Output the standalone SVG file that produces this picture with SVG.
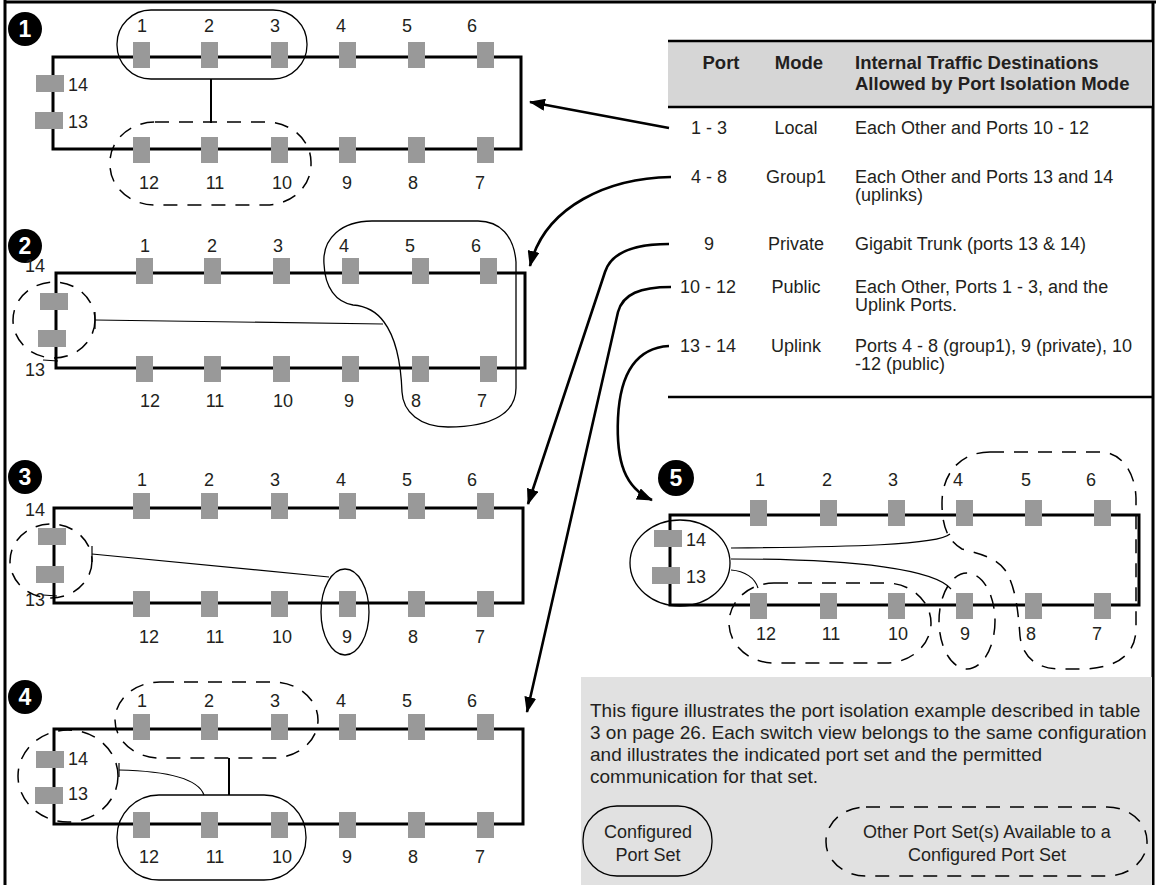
<svg xmlns="http://www.w3.org/2000/svg" xmlns:xlink="http://www.w3.org/1999/xlink" width="1156" height="885" viewBox="0 0 1156 885">
<defs>
<style>
text{font-family:"Liberation Sans",Arial,sans-serif;fill:#231f20}
.lb{font-size:18px;text-anchor:middle}
.ls{font-size:18px}
.tb{font-size:18px}
.th{font-size:18.5px;font-weight:bold}
.lg{font-size:19px}
.bn{font-size:23px;font-weight:bold;fill:#fff;text-anchor:middle}
.box{fill:none;stroke:#000;stroke-width:3}
.set{fill:none;stroke:#000;stroke-width:1.3}
.oth{fill:none;stroke:#000;stroke-width:1.5;stroke-dasharray:14 10}
.cn{fill:none;stroke:#000;stroke-width:1.2}
.cn2{fill:none;stroke:#000;stroke-width:2}
.ar{fill:none;stroke:#000;stroke-width:2.6}
</style>
<rect id="pv" width="17" height="26" fill="#999"/>
<rect id="ph" width="28" height="17" fill="#999"/>
<marker id="ah" viewBox="0 0 16 12" refX="15" refY="6" markerWidth="16" markerHeight="12" markerUnits="userSpaceOnUse" orient="auto">
<path d="M0,0 L16,6 L0,12 Z" fill="#000"/>
</marker>
</defs>
<rect width="1156" height="885" fill="#fff"/>
<g id="frame">
<line x1="5" y1="0" x2="5" y2="885" stroke="#000" stroke-width="3"/>
<line x1="4" y1="2" x2="1156" y2="2" stroke="#000" stroke-width="3"/>
<line x1="1153" y1="1" x2="1153" y2="885" stroke="#000" stroke-width="3"/>
</g>

<g id="switch1">
<circle cx="25" cy="29" r="17" fill="#000"/><text class="bn" x="25" y="37">1</text>
<rect class="box" x="53" y="57" width="468" height="92"/>
<use xlink:href="#pv" x="133" y="42"/><use xlink:href="#pv" x="201" y="42"/><use xlink:href="#pv" x="271" y="42"/><use xlink:href="#pv" x="339" y="42"/><use xlink:href="#pv" x="408" y="42"/><use xlink:href="#pv" x="477" y="42"/>
<use xlink:href="#pv" x="133" y="137"/><use xlink:href="#pv" x="201" y="137"/><use xlink:href="#pv" x="271" y="137"/><use xlink:href="#pv" x="339" y="137"/><use xlink:href="#pv" x="408" y="137"/><use xlink:href="#pv" x="477" y="137"/>
<use xlink:href="#ph" x="36" y="75"/><use xlink:href="#ph" x="35" y="112"/>
<text class="lb" x="142" y="32">1</text><text class="lb" x="209" y="32">2</text><text class="lb" x="275" y="32">3</text><text class="lb" x="341" y="32">4</text><text class="lb" x="407" y="32">5</text><text class="lb" x="472" y="32">6</text>
<text class="lb" x="149" y="189">12</text><text class="lb" x="215" y="189">11</text><text class="lb" x="282" y="189">10</text><text class="lb" x="347" y="189">9</text><text class="lb" x="413" y="189">8</text><text class="lb" x="480" y="189">7</text>
<text class="ls" x="68" y="91">14</text><text class="ls" x="68" y="128">13</text>
<rect class="set" x="117" y="10" width="190" height="69" rx="34" ry="34"/>
<rect class="oth" x="110" y="122" width="201" height="83" rx="45" ry="40"/>
<line class="cn2" x1="211" y1="79" x2="211" y2="123"/>
</g>

<g id="switch2">
<circle cx="25" cy="246" r="17" fill="#000"/><text class="bn" x="25" y="254">2</text>
<rect class="box" x="56" y="273" width="469" height="95"/>
<use xlink:href="#pv" x="136" y="258"/><use xlink:href="#pv" x="204" y="258"/><use xlink:href="#pv" x="273" y="258"/><use xlink:href="#pv" x="342" y="258"/><use xlink:href="#pv" x="412" y="258"/><use xlink:href="#pv" x="480" y="258"/>
<use xlink:href="#pv" x="136" y="356"/><use xlink:href="#pv" x="204" y="356"/><use xlink:href="#pv" x="273" y="356"/><use xlink:href="#pv" x="342" y="356"/><use xlink:href="#pv" x="412" y="356"/><use xlink:href="#pv" x="480" y="356"/>
<use xlink:href="#ph" x="40" y="293"/><use xlink:href="#ph" x="38" y="330"/>
<text class="lb" x="145" y="252">1</text><text class="lb" x="212" y="252">2</text><text class="lb" x="278" y="252">3</text><text class="lb" x="344" y="252">4</text><text class="lb" x="410" y="252">5</text><text class="lb" x="476" y="252">6</text>
<text class="lb" x="150" y="407">12</text><text class="lb" x="215" y="407">11</text><text class="lb" x="283" y="407">10</text><text class="lb" x="349" y="407">9</text><text class="lb" x="416" y="407">8</text><text class="lb" x="482" y="407">7</text>
<text class="lb" x="35" y="272">14</text><text class="lb" x="35" y="376">13</text>
<line class="cn" x1="43" y1="360" x2="58" y2="361"/>
<ellipse class="oth" cx="54" cy="320" rx="41" ry="38"/>
<path class="set" d="M324,264 C322,238 342,221 372,221 L478,221 C500,221 514,236 516,262 L516,388 C516,412 494,427 448,427 C420,427 403,412 402,392 C401,365 396,338 384,322 C376,311 366,306 353,305 C336,302 325,288 324,264 Z"/>
<line class="cn" x1="95" y1="320" x2="383" y2="324"/>
<line class="cn" x1="95" y1="312" x2="95" y2="329"/>
</g>

<g id="switch3">
<circle cx="25" cy="477" r="17" fill="#000"/><text class="bn" x="25" y="485">3</text>
<rect class="box" x="54" y="508" width="469" height="95"/>
<use xlink:href="#pv" x="133" y="493"/><use xlink:href="#pv" x="201" y="493"/><use xlink:href="#pv" x="271" y="493"/><use xlink:href="#pv" x="339" y="493"/><use xlink:href="#pv" x="408" y="493"/><use xlink:href="#pv" x="477" y="493"/>
<use xlink:href="#pv" x="133" y="591"/><use xlink:href="#pv" x="201" y="591"/><use xlink:href="#pv" x="271" y="591"/><use xlink:href="#pv" x="339" y="591"/><use xlink:href="#pv" x="408" y="591"/><use xlink:href="#pv" x="477" y="591"/>
<use xlink:href="#ph" x="38" y="528"/><use xlink:href="#ph" x="36" y="566"/>
<text class="lb" x="142" y="486">1</text><text class="lb" x="209" y="486">2</text><text class="lb" x="275" y="486">3</text><text class="lb" x="341" y="486">4</text><text class="lb" x="407" y="486">5</text><text class="lb" x="472" y="486">6</text>
<text class="lb" x="149" y="643">12</text><text class="lb" x="215" y="643">11</text><text class="lb" x="282" y="643">10</text><text class="lb" x="347" y="643">9</text><text class="lb" x="413" y="643">8</text><text class="lb" x="480" y="643">7</text>
<text class="lb" x="35" y="516">14</text><text class="lb" x="35" y="606">13</text>
<line class="cn" x1="43" y1="595" x2="57" y2="596"/>
<ellipse class="oth" cx="51" cy="561" rx="41" ry="37"/>
<ellipse class="set" cx="345" cy="612" rx="24" ry="43"/>
<line class="cn" x1="92" y1="554" x2="329" y2="577"/>
<line class="cn" x1="92" y1="546" x2="92" y2="562"/>
</g>

<g id="switch4">
<circle cx="25" cy="697" r="17" fill="#000"/><text class="bn" x="25" y="705">4</text>
<rect class="box" x="54" y="729" width="469" height="95"/>
<use xlink:href="#pv" x="133" y="714"/><use xlink:href="#pv" x="201" y="714"/><use xlink:href="#pv" x="271" y="714"/><use xlink:href="#pv" x="339" y="714"/><use xlink:href="#pv" x="408" y="714"/><use xlink:href="#pv" x="477" y="714"/>
<use xlink:href="#pv" x="133" y="812"/><use xlink:href="#pv" x="201" y="812"/><use xlink:href="#pv" x="271" y="812"/><use xlink:href="#pv" x="339" y="812"/><use xlink:href="#pv" x="408" y="812"/><use xlink:href="#pv" x="477" y="812"/>
<use xlink:href="#ph" x="36" y="751"/><use xlink:href="#ph" x="35" y="787"/>
<text class="lb" x="142" y="707">1</text><text class="lb" x="209" y="707">2</text><text class="lb" x="275" y="707">3</text><text class="lb" x="341" y="707">4</text><text class="lb" x="407" y="707">5</text><text class="lb" x="472" y="707">6</text>
<text class="lb" x="149" y="863">12</text><text class="lb" x="215" y="863">11</text><text class="lb" x="282" y="863">10</text><text class="lb" x="347" y="863">9</text><text class="lb" x="413" y="863">8</text><text class="lb" x="480" y="863">7</text>
<text class="ls" x="68" y="765">14</text><text class="ls" x="68" y="800">13</text>
<rect class="oth" x="115" y="682" width="203" height="76" rx="45" ry="38"/>
<rect class="set" x="117" y="795" width="189" height="85" rx="42" ry="42"/>
<ellipse class="oth" cx="68" cy="776" rx="50" ry="46"/>
<line class="cn2" x1="229" y1="758" x2="229" y2="795"/>
<path class="cn" d="M119,770 C165,771 198,778 204,795"/>
<line class="cn" x1="119" y1="763" x2="119" y2="777"/>
</g>

<g id="switch5">
<circle cx="676" cy="478" r="18" fill="#000"/><text class="bn" x="676" y="486">5</text>
<rect class="box" x="670" y="515" width="469" height="90"/>
<use xlink:href="#pv" x="750" y="500"/><use xlink:href="#pv" x="820" y="500"/><use xlink:href="#pv" x="888" y="500"/><use xlink:href="#pv" x="956" y="500"/><use xlink:href="#pv" x="1025" y="500"/><use xlink:href="#pv" x="1094" y="500"/>
<use xlink:href="#pv" x="750" y="593"/><use xlink:href="#pv" x="820" y="593"/><use xlink:href="#pv" x="888" y="593"/><use xlink:href="#pv" x="956" y="593"/><use xlink:href="#pv" x="1025" y="593"/><use xlink:href="#pv" x="1094" y="593"/>
<use xlink:href="#ph" x="654" y="530"/><use xlink:href="#ph" x="652" y="567"/>
<text class="lb" x="760" y="486">1</text><text class="lb" x="827" y="486">2</text><text class="lb" x="893" y="486">3</text><text class="lb" x="958" y="486">4</text><text class="lb" x="1026" y="486">5</text><text class="lb" x="1091" y="486">6</text>
<text class="lb" x="766" y="640">12</text><text class="lb" x="831" y="640">11</text><text class="lb" x="898" y="640">10</text><text class="lb" x="965" y="640">9</text><text class="lb" x="1031" y="640">8</text><text class="lb" x="1097" y="640">7</text>
<text class="ls" x="686" y="546">14</text><text class="ls" x="686" y="583">13</text>
<ellipse class="set" cx="680" cy="563" rx="50" ry="43"/>
<rect class="oth" x="729" y="583" width="202" height="80" rx="45" ry="40"/>
<ellipse class="oth" cx="967" cy="621" rx="28" ry="48"/>
<path class="oth" d="M990,452 L1100,452 C1120,452 1135,470 1136,498 L1136,628 C1136,656 1115,669 1080,669 L1060,669 C1035,669 1022,655 1020,636 C1018,608 1015,585 1005,570 C995,556 975,553 962,549 C948,541 942,527 942,503 C942,474 960,452 990,452 Z"/>
<path class="cn" d="M731,548 C850,547 938,545 950,534"/>
<path class="cn" d="M731,559 C860,559 935,570 951,589"/>
<path class="cn" d="M731,570 C745,571 755,578 758,588"/>
</g>

<g id="table">
<rect x="668" y="40" width="484" height="68" fill="#d6d6d6"/>
<line x1="668" y1="41" x2="1152" y2="41" stroke="#000" stroke-width="2.5"/>
<line x1="668" y1="107" x2="1152" y2="107" stroke="#000" stroke-width="2.5"/>
<text class="th" x="721" y="69" text-anchor="middle">Port</text>
<text class="th" x="799" y="69" text-anchor="middle">Mode</text>
<text class="th" x="855" y="69">Internal Traffic Destinations</text>
<text class="th" x="855" y="90">Allowed by Port Isolation Mode</text>
<text class="tb" x="709" y="134" text-anchor="middle">1 - 3</text>
<text class="tb" x="796" y="134" text-anchor="middle">Local</text>
<text class="tb" x="855" y="134">Each Other and Ports 10 - 12</text>
<text class="tb" x="709" y="183" text-anchor="middle">4 - 8</text>
<text class="tb" x="796" y="183" text-anchor="middle">Group1</text>
<text class="tb" x="855" y="183">Each Other and Ports 13 and 14</text>
<text class="tb" x="855" y="201">(uplinks)</text>
<text class="tb" x="709" y="250" text-anchor="middle">9</text>
<text class="tb" x="796" y="250" text-anchor="middle">Private</text>
<text class="tb" x="855" y="250">Gigabit Trunk (ports 13 &amp; 14)</text>
<text class="tb" x="708" y="293" text-anchor="middle">10 - 12</text>
<text class="tb" x="796" y="293" text-anchor="middle">Public</text>
<text class="tb" x="855" y="293">Each Other, Ports 1 - 3, and the</text>
<text class="tb" x="855" y="311">Uplink Ports.</text>
<text class="tb" x="708" y="352" text-anchor="middle">13 - 14</text>
<text class="tb" x="796" y="352" text-anchor="middle">Uplink</text>
<text class="tb" x="855" y="352">Ports 4 - 8 (group1), 9 (private), 10</text>
<text class="tb" x="855" y="370">-12 (public)</text>
<line x1="668" y1="397" x2="1153" y2="397" stroke="#000" stroke-width="2.5"/>
</g>

<g id="legend">
<rect x="581" y="677" width="571" height="208" fill="#e1e1e1"/>
<text class="lg" x="590" y="717">This figure illustrates the port isolation example described in table</text>
<text class="lg" x="590" y="739">3 on page 26. Each switch view belongs to the same configuration</text>
<text class="lg" x="590" y="761">and illustrates the indicated port set and the permitted</text>
<text class="lg" x="590" y="783">communication for that set.</text>
<rect class="set" x="583" y="806" width="129" height="70" rx="34" ry="34"/>
<text class="ls" x="648" y="838" text-anchor="middle">Configured</text>
<text class="ls" x="648" y="861" text-anchor="middle">Port Set</text>
<rect class="oth" x="826" y="807" width="321" height="69" rx="40" ry="34"/>
<text class="ls" x="987" y="838" text-anchor="middle">Other Port Set(s) Available to a</text>
<text class="ls" x="987" y="861" text-anchor="middle">Configured Port Set</text>
</g>

<g id="connectors">
<path class="ar" marker-end="url(#ah)" d="M669,128 L530,102"/>
<path class="ar" marker-end="url(#ah)" d="M671,177 C610,178 545,205 530,266"/>
<path class="ar" marker-end="url(#ah)" d="M669,244 C640,244 612,250 605,272 L528,504"/>
<path class="ar" marker-end="url(#ah)" d="M671,287 C640,287 623,294 618,312 L527,712"/>
<path class="ar" marker-end="url(#ah)" d="M669,346 C635,348 620,375 618,418 C616,462 625,488 652,500"/>
</g>
</svg>
